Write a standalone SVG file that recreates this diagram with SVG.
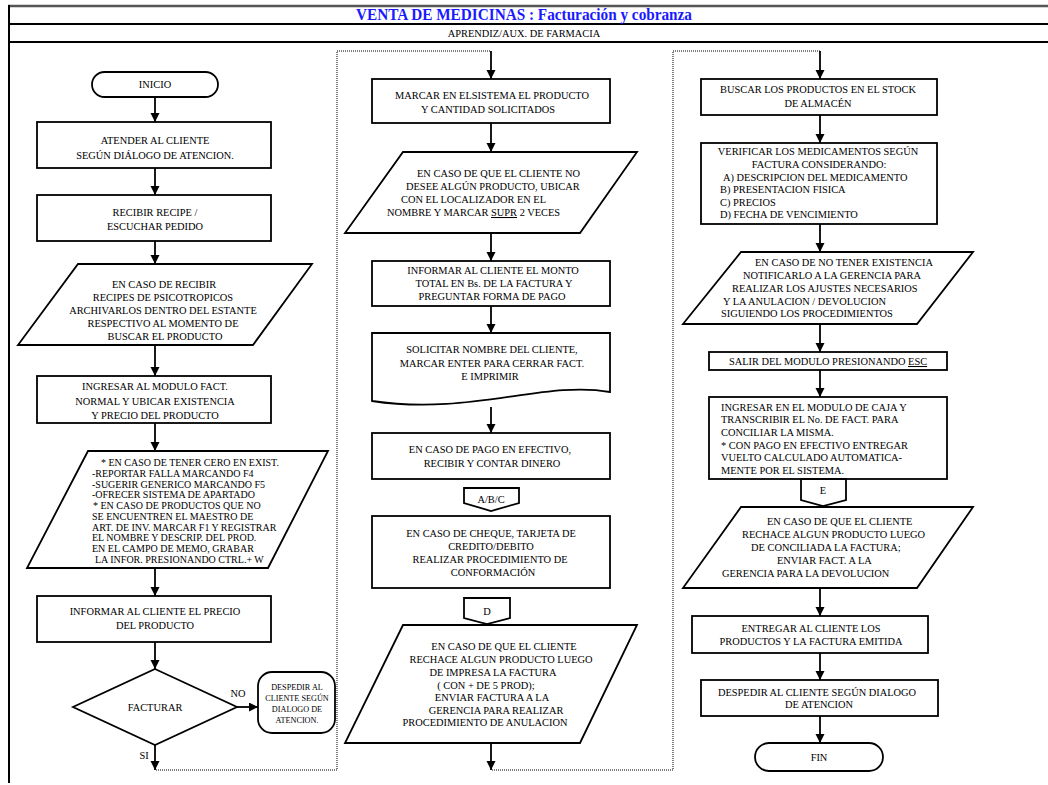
<svg xmlns="http://www.w3.org/2000/svg" width="1048" height="785" viewBox="0 0 1048 785">
  <defs>
    <marker id="arr" markerUnits="userSpaceOnUse" markerWidth="10" markerHeight="10" refX="9" refY="4.5" orient="auto">
      <path d="M0,0 L9,4.5 L0,9 Z" fill="#000"/>
    </marker>
    <style>
      .s { fill:#fff; stroke:#000; stroke-width:1.8; }
      .t { font-family:"Liberation Serif","Times New Roman",serif; font-size:10.4px; fill:#000; text-anchor:middle; }
      .l { text-anchor:start; }
      .sm { font-size:10px; }
      .xs { font-size:8.2px; }
      .ln { fill:none; stroke:#000; stroke-width:1.8; marker-end:url(#arr); }
      .dt { fill:none; stroke:#000; stroke-width:1; stroke-dasharray:1 1; }
      .u { text-decoration:underline; }
    </style>
  </defs>
  <rect width="1048" height="785" fill="#fff"/>

  <!-- header frame -->
  <g id="header">
    <line x1="8" y1="6" x2="1048" y2="6" stroke="#555" stroke-width="2.5"/>
    <line x1="8" y1="24" x2="1048" y2="24" stroke="#000" stroke-width="2"/>
    <line x1="8" y1="42" x2="1048" y2="42" stroke="#000" stroke-width="2"/>
    <line x1="9" y1="5" x2="9" y2="783" stroke="#000" stroke-width="2"/>
    <text x="524" y="20" font-family="'Liberation Serif','Times New Roman',serif" font-size="16" font-weight="bold" fill="#1a1aff" text-anchor="middle" textLength="336" lengthAdjust="spacingAndGlyphs">VENTA DE MEDICINAS : Facturación y cobranza</text>
    <text x="524" y="37" class="t" font-size="10">APRENDIZ/AUX. DE FARMACIA</text>
  </g>

  <!-- connectors -->
  <g id="connectors">
    <!-- column 1 -->
    <line class="ln" x1="155" y1="97" x2="155" y2="122"/>
    <line class="ln" x1="155" y1="168" x2="155" y2="195"/>
    <line class="ln" x1="155" y1="241" x2="155" y2="264"/>
    <line class="ln" x1="155" y1="345" x2="155" y2="376"/>
    <line class="ln" x1="155" y1="423" x2="155" y2="451"/>
    <line class="ln" x1="155" y1="568" x2="155" y2="596"/>
    <line class="ln" x1="155" y1="642" x2="155" y2="669"/>
    <line class="ln" x1="237" y1="707" x2="258" y2="707"/>
    <line class="ln" x1="155" y1="745" x2="155" y2="770"/>
    <polyline class="dt" points="156,770 337,770 337,51 491,51"/>
    <!-- column 2 -->
    <line class="ln" x1="491" y1="51" x2="491" y2="79"/>
    <line class="ln" x1="491" y1="123" x2="491" y2="152"/>
    <line class="ln" x1="491" y1="233" x2="491" y2="261"/>
    <line class="ln" x1="491" y1="306" x2="491" y2="333"/>
    <line class="ln" x1="491" y1="407" x2="491" y2="433"/>
    <line class="ln" x1="491" y1="743" x2="491" y2="770"/>
    <polyline class="dt" points="492,770 673,770 673,51 820,51"/>
    <!-- column 3 -->
    <line class="ln" x1="820" y1="51" x2="820" y2="79"/>
    <line class="ln" x1="820" y1="115" x2="820" y2="143"/>
    <line class="ln" x1="820" y1="224" x2="820" y2="252"/>
    <line class="ln" x1="820" y1="324" x2="820" y2="352"/>
    <line class="ln" x1="820" y1="370" x2="820" y2="397"/>
    <line class="ln" x1="820" y1="588" x2="820" y2="616"/>
    <line class="ln" x1="820" y1="653" x2="820" y2="680"/>
    <line class="ln" x1="820" y1="716" x2="820" y2="743"/>
    <text class="t" x="238" y="697">NO</text>
    <text class="t" x="144" y="759">SI</text>
  </g>

  <!-- column 1 nodes -->
  <g id="inicio">
    <rect class="s" x="92" y="72" width="126" height="25" rx="12.5"/>
    <text class="t" x="155" y="88">INICIO</text>
  </g>
  <g id="atender">
    <rect class="s" x="37" y="122" width="234" height="46"/>
    <text class="t" x="155" y="144">ATENDER AL CLIENTE</text>
    <text class="t" x="155" y="159">SEGÚN DIÁLOGO DE ATENCION.</text>
  </g>
  <g id="recibir">
    <rect class="s" x="37" y="195" width="234" height="46"/>
    <text class="t" x="155" y="216">RECIBIR RECIPE /</text>
    <text class="t" x="155" y="230">ESCUCHAR PEDIDO</text>
  </g>
  <g id="psicotropicos">
    <polygon class="s" points="78,264 312,264 253,345 18,345"/>
    <text class="t" x="164" y="288">EN CASO DE RECIBIR</text>
    <text class="t" x="163" y="301">RECIPES DE PSICOTROPICOS</text>
    <text class="t" x="163" y="314">ARCHIVARLOS  DENTRO DEL ESTANTE</text>
    <text class="t" x="163" y="327">RESPECTIVO AL MOMENTO DE</text>
    <text class="t" x="165" y="340">BUSCAR EL PRODUCTO</text>
  </g>
  <g id="ingresar-fact">
    <rect class="s" x="37" y="376" width="234" height="47"/>
    <text class="t" x="155" y="390">INGRESAR AL MODULO FACT.</text>
    <text class="t" x="155" y="405">NORMAL Y UBICAR  EXISTENCIA</text>
    <text class="t" x="155" y="419">Y PRECIO DEL PRODUCTO</text>
  </g>
  <g id="existencia">
    <polygon class="s" points="88,451 328,451 268,568 27,568"/>
    <text class="t l sm" x="101" y="466">* EN CASO DE TENER CERO EN EXIST.</text>
    <text class="t l sm" x="92" y="477">-REPORTAR FALLA MARCANDO F4</text>
    <text class="t l sm" x="92" y="488">-SUGERIR GENERICO MARCANDO F5</text>
    <text class="t l sm" x="92" y="498">-OFRECER SISTEMA  DE APARTADO</text>
    <text class="t l sm" x="93" y="509">*  EN CASO DE PRODUCTOS QUE NO</text>
    <text class="t l sm" x="92" y="520">SE ENCUENTREN  EL  MAESTRO DE</text>
    <text class="t l sm" x="92" y="531">ART. DE INV. MARCAR F1 Y REGISTRAR</text>
    <text class="t l sm" x="92" y="541">EL NOMBRE Y DESCRIP. DEL PROD.</text>
    <text class="t l sm" x="92" y="552">EN EL CAMPO DE MEMO, GRABAR</text>
    <text class="t l sm" x="95" y="563">LA INFOR. PRESIONANDO CTRL.+ W</text>
  </g>
  <g id="informar-precio">
    <rect class="s" x="37" y="596" width="234" height="46"/>
    <text class="t" x="155" y="615">INFORMAR AL CLIENTE EL PRECIO</text>
    <text class="t" x="155" y="629">DEL PRODUCTO</text>
  </g>
  <g id="facturar">
    <polygon class="s" points="155,669 237,707 155,745 73,707"/>
    <text class="t" x="155" y="711" font-size="11">FACTURAR</text>
  </g>
  <g id="despedir-no">
    <rect class="s" x="258" y="672" width="77" height="61" rx="14"/>
    <text class="t xs" x="297" y="690">DESPEDIR AL</text>
    <text class="t xs" x="297" y="701">CLIENTE SEGÚN</text>
    <text class="t xs" x="297" y="712">DIALOGO  DE</text>
    <text class="t xs" x="297" y="723">ATENCION.</text>
  </g>

  <!-- column 2 nodes -->
  <g id="marcar">
    <rect class="s" x="372" y="79" width="238" height="44"/>
    <text class="t" x="492" y="99">MARCAR EN ELSISTEMA EL PRODUCTO</text>
    <text class="t" x="488" y="113">Y CANTIDAD  SOLICITADOS</text>
  </g>
  <g id="supr">
    <polygon class="s" points="403,152 637,152 580,233 345,233"/>
    <text class="t l" x="417" y="177">EN CASO DE QUE EL CLIENTE NO</text>
    <text class="t l" x="406" y="190">DESEE ALGÚN PRODUCTO, UBICAR</text>
    <text class="t l" x="401" y="203">CON EL LOCALIZADOR  EN EL</text>
    <text class="t l" x="387" y="216">NOMBRE Y MARCAR <tspan class="u">SUPR</tspan> 2 VECES</text>
  </g>
  <g id="monto">
    <rect class="s" x="372" y="261" width="238" height="45"/>
    <text class="t" x="493" y="274">INFORMAR AL CLIENTE EL MONTO</text>
    <text class="t" x="494" y="287">TOTAL EN Bs. DE LA FACTURA Y</text>
    <text class="t" x="492" y="300">PREGUNTAR FORMA DE PAGO</text>
  </g>
  <g id="solicitar">
    <path class="s" d="M372,333 H610 V392 C545,380 470,416 372,401 Z"/>
    <text class="t" x="492" y="353">SOLICITAR NOMBRE DEL CLIENTE,</text>
    <text class="t" x="492" y="367">MARCAR ENTER PARA CERRAR FACT.</text>
    <text class="t" x="490" y="380">E IMPRIMIR</text>
  </g>
  <g id="efectivo">
    <rect class="s" x="372" y="433" width="238" height="46"/>
    <text class="t" x="490" y="453">EN CASO DE PAGO EN EFECTIVO,</text>
    <text class="t" x="492" y="467">RECIBIR Y CONTAR DINERO</text>
  </g>
  <g id="conector-abc">
    <path class="s" d="M464,488 H519 V503 L491,511 L464,503 Z"/>
    <text class="t" x="491" y="503">A/B/C</text>
  </g>
  <g id="cheque">
    <rect class="s" x="372" y="516" width="238" height="72"/>
    <text class="t" x="491" y="537">EN CASO DE CHEQUE, TARJETA DE</text>
    <text class="t" x="491" y="550">CREDITO/DEBITO</text>
    <text class="t" x="490" y="563">REALIZAR PROCEDIMIENTO DE</text>
    <text class="t" x="493" y="576">CONFORMACIÓN</text>
  </g>
  <g id="conector-d">
    <path class="s" d="M464,598 H510 V618 L487,624 L464,618 Z"/>
    <text class="t" x="487" y="615">D</text>
  </g>
  <g id="anulacion">
    <polygon class="s" points="403,625 637,625 580,743 345,743"/>
    <text class="t" x="504" y="650">EN CASO DE QUE EL CLIENTE</text>
    <text class="t" x="501" y="663">RECHACE  ALGUN PRODUCTO LUEGO</text>
    <text class="t" x="493" y="676">DE IMPRESA LA FACTURA</text>
    <text class="t" x="486" y="689">( CON + DE 5 PROD);</text>
    <text class="t" x="492" y="701">ENVIAR FACTURA  A  LA</text>
    <text class="t" x="496" y="714">GERENCIA PARA REALIZAR</text>
    <text class="t" x="485" y="726">PROCEDIMIENTO DE ANULACION</text>
  </g>

  <!-- column 3 nodes -->
  <g id="buscar">
    <rect class="s" x="701" y="79" width="236" height="36"/>
    <text class="t" x="818" y="93">BUSCAR LOS PRODUCTOS EN EL STOCK</text>
    <text class="t" x="818" y="107">DE ALMACÉN</text>
  </g>
  <g id="verificar">
    <rect class="s" x="701" y="143" width="236" height="81"/>
    <text class="t" x="818" y="155">VERIFICAR LOS MEDICAMENTOS SEGÚN</text>
    <text class="t" x="819" y="168">FACTURA CONSIDERANDO:</text>
    <text class="t l" x="723" y="181">A) DESCRIPCION DEL  MEDICAMENTO</text>
    <text class="t l" x="720" y="193">B) PRESENTACION FISICA</text>
    <text class="t l" x="720" y="206">C) PRECIOS</text>
    <text class="t l" x="720" y="218">D) FECHA DE VENCIMIENTO</text>
  </g>
  <g id="ajustes">
    <polygon class="s" points="741,252 973,252 917,324 683,324"/>
    <text class="t l" x="755" y="266">EN CASO DE NO TENER EXISTENCIA</text>
    <text class="t l" x="743" y="279">NOTIFICARLO  A LA GERENCIA PARA</text>
    <text class="t l" x="732" y="292">REALIZAR  LOS AJUSTES NECESARIOS</text>
    <text class="t l" x="723" y="305">Y  LA ANULACION / DEVOLUCION</text>
    <text class="t l" x="721" y="317">SIGUIENDO LOS PROCEDIMIENTOS</text>
  </g>
  <g id="salir">
    <rect class="s" x="709" y="352" width="238" height="18"/>
    <text class="t" x="828" y="365">SALIR DEL MODULO PRESIONANDO <tspan class="u">ESC</tspan></text>
  </g>
  <g id="caja">
    <rect class="s" x="709" y="397" width="238" height="82"/>
    <text class="t l" x="721" y="411">INGRESAR EN EL MODULO DE CAJA  Y</text>
    <text class="t l" x="721" y="423">TRANSCRIBIR EL No. DE FACT. PARA</text>
    <text class="t l" x="721" y="436">CONCILIAR LA MISMA.</text>
    <text class="t l" x="721" y="449">* CON PAGO EN EFECTIVO ENTREGAR</text>
    <text class="t l" x="721" y="461">VUELTO CALCULADO  AUTOMATICA-</text>
    <text class="t l" x="721" y="474">MENTE POR EL SISTEMA.</text>
  </g>
  <g id="conector-e">
    <path class="s" d="M801,479 H846 V500 L823,506 L801,500 Z"/>
    <text class="t" x="823" y="494">E</text>
  </g>
  <g id="devolucion">
    <polygon class="s" points="741,507 973,507 917,588 683,588"/>
    <text class="t l" x="767" y="525">EN CASO DE QUE EL CLIENTE</text>
    <text class="t l" x="742" y="538">RECHACE  ALGUN PRODUCTO LUEGO</text>
    <text class="t l" x="751" y="551">DE CONCILIADA  LA FACTURA;</text>
    <text class="t l" x="777" y="564">ENVIAR FACT. A  LA</text>
    <text class="t l" x="722" y="577">GERENCIA PARA LA DEVOLUCION</text>
  </g>
  <g id="entregar">
    <rect class="s" x="692" y="616" width="236" height="37"/>
    <text class="t" x="811" y="632">ENTREGAR AL CLIENTE LOS</text>
    <text class="t" x="811" y="645">PRODUCTOS  Y LA FACTURA  EMITIDA</text>
  </g>
  <g id="despedir-fin">
    <rect class="s" x="701" y="680" width="237" height="36"/>
    <text class="t" x="817" y="696">DESPEDIR AL CLIENTE SEGÚN DIALOGO</text>
    <text class="t" x="819" y="708">DE ATENCION</text>
  </g>
  <g id="fin">
    <rect class="s" x="755" y="743" width="128" height="28" rx="14"/>
    <text class="t" x="819" y="761">FIN</text>
  </g>
</svg>
